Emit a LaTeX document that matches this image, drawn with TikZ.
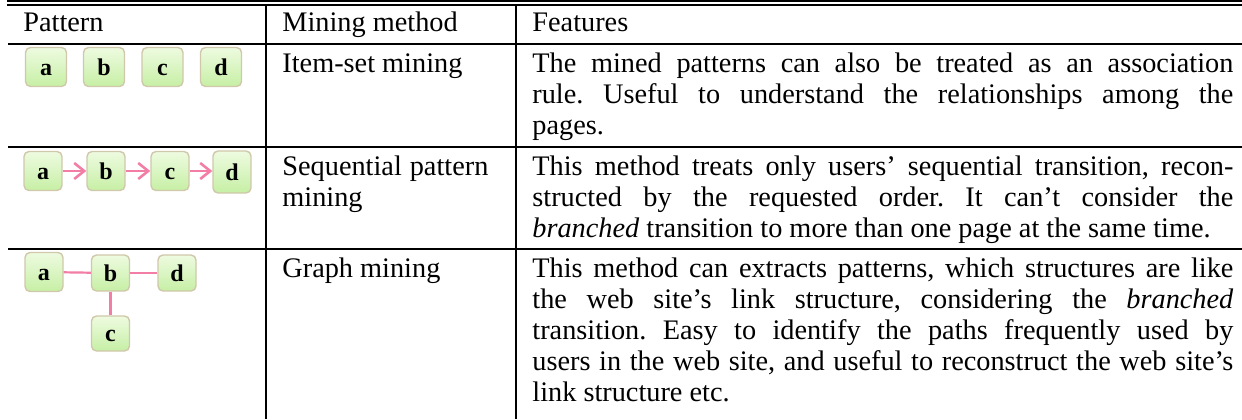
\documentclass[tikz,border=0pt]{standalone}
\usepackage{fontspec}
\setmainfont{Liberation Serif}
\usetikzlibrary{arrows.meta}
\definecolor{linkpink}{RGB}{242,125,165}
\definecolor{boxlight}{RGB}{238,251,224}
\definecolor{boxdark}{RGB}{198,239,165}
\definecolor{boxedge}{RGB}{208,200,170}
\begin{document}
\frenchspacing
\begin{tikzpicture}[x=0.5pt,y=-0.5pt,
  tablerule/.style={line width=1pt, black},
  page/.style={draw=boxedge, line width=0.7pt, rounded corners=2.5pt,
    top color=boxlight, bottom color=boxdark,
    minimum width=19pt, minimum height=19.5pt, inner sep=0pt,
    text height=8pt, text depth=0pt,
    font=\bfseries\fontsize{12pt}{13pt}\selectfont},
  seqlink/.style={draw=linkpink, line width=1.3pt,
    -{Straight Barb[length=5pt,width=8pt]}},
  graphlink/.style={draw=linkpink, line width=1.1pt},
  cell/.style={anchor=base west, inner sep=0pt, align=justify,
    font=\fontsize{14.15pt}{15.5pt}\selectfont\frenchspacing},
  headcell/.style={anchor=base west, inner sep=0pt,
    font=\fontsize{14.15pt}{15.5pt}\selectfont}]
\useasboundingbox (0,0) rectangle (1242,419);

% table rules
\draw[line width=1.2pt] (7,1.2) -- (1242,1.2);
\draw[tablerule] (7,5.2) -- (1242,5.2);
\draw[tablerule] (8,44) -- (1242,44);
\draw[tablerule] (8,147) -- (1242,147);
\draw[tablerule] (8,249) -- (1242,249);
\draw[tablerule] (266,5) -- (266,419);
\draw[tablerule] (516,5) -- (516,419);

% header
\node[headcell] (hpat) at (23,31) {Pattern};
\node[headcell] (hmeth) at (282,31) {Mining method};
\node[headcell] (hfeat) at (532,31) {Features};

% item-set pattern
\node[page, minimum width=20.5pt, minimum height=19.5pt] (ia) at (46,67) {a};
\node[page, minimum width=20.5pt, minimum height=19.5pt] (ib) at (104,67) {b};
\node[page, minimum width=20.5pt, minimum height=19.5pt] (ic) at (162.5,67) {c};
\node[page, minimum width=20.5pt, minimum height=19.5pt] (id) at (221,67) {d};

% sequential pattern
\node[page] (sa) at (43,171) {a};
\node[page] (sb) at (106,171) {b};
\node[page] (sc) at (170,171) {c};
\node[page, minimum height=21pt] (sd) at (232,172) {d};
\draw[seqlink] (sa) -- (sb);
\draw[seqlink] (sb) -- (sc);
\draw[seqlink] (sc.east) -- (sd.west |- sc.east);

% graph pattern
\node[page] (ga) at (44,272) {a};
\node[page, minimum height=18pt] (gb) at (110.5,273) {b};
\node[page, minimum height=18pt] (gd) at (177,273) {d};
\node[page, minimum height=17.5pt] (gc) at (110.5,333.5) {c};
\draw[graphlink] (ga) -- (gb);
\draw[graphlink] (gb) -- (gd);
\draw[graphlink] (gb) -- (gc);

% mining methods
\node[cell, text width=103pt] (m1) at (282,72) {Item-set mining};
\node[cell, text width=103pt] (m2) at (282,175) {Sequential pattern\linebreak mining};
\node[cell, text width=103pt] (m3) at (282,277) {Graph mining};

% features
\node[cell, text width=350.5pt] (f1) at (532,72)
  {The mined patterns can also be treated as an association\linebreak
   rule. Useful to understand the relationships among the\linebreak
   pages.};
\node[cell, text width=350.5pt] (f2) at (532,175)
  {\parfillskip=0pt This method treats only users’ sequential transition, recon-\linebreak
   structed by the requested order. It can’t consider the\linebreak
   \textit{branched} transition to more than one page at the same time.};
\node[cell, text width=350.5pt] (f3) at (532,277)
  {This method can extracts patterns, which structures are like\linebreak
   the web site’s link structure, considering the \textit{branched}\linebreak
   transition. Easy to identify the paths frequently used by\linebreak
   users in the web site, and useful to reconstruct the web site’s\linebreak
   link structure etc.};
\end{tikzpicture}
\end{document}
